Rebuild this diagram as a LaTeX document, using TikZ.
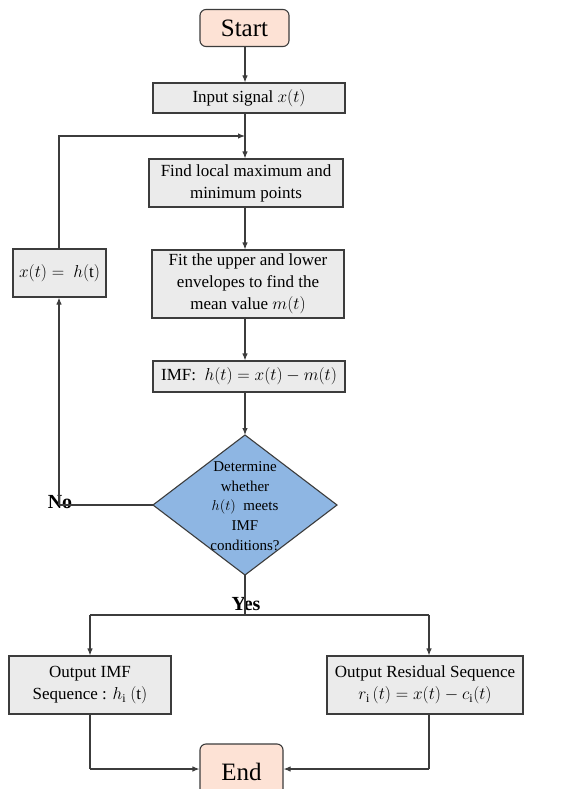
\documentclass[tikz,border=0pt]{standalone}
\usepackage{fontspec}
\setmainfont{Liberation Serif}
\usetikzlibrary{arrows.meta}
\definecolor{boxfill}{HTML}{EBEBEB}
\definecolor{boxline}{HTML}{3C3C3C}
\definecolor{termfill}{HTML}{FDE2D5}
\definecolor{decfill}{HTML}{8EB6E3}
\begin{document}
\begin{tikzpicture}[x=1pt,y=-1pt,
  procbox/.style={draw=boxline,fill=boxfill,line width=1.1pt,inner sep=0pt,align=center,
    font=\fontsize{17}{22}\selectfont},
  termbox/.style={draw=boxline,fill=termfill,line width=1.1pt,rounded corners=6pt,inner sep=0pt,
    font=\fontsize{25}{28}\selectfont},
  flow/.style={draw=boxline,line width=1.1pt,-{Latex[length=7pt,width=5.5pt]}},
  plainline/.style={draw=boxline,line width=1.1pt},
  lbl/.style={font=\fontsize{20}{24}\selectfont\bfseries,inner sep=0pt}]
\useasboundingbox (0,0) rectangle (577,789);
\clip (0,0) rectangle (577,789);
\fill[white] (0,0) rectangle (577,789);

\node[termbox,minimum width=89pt,minimum height=37pt] (start) at (244.5,28) {Start};
\node[procbox,minimum width=192pt,minimum height=30pt] (input) at (249,98) {Input signal $x(t)$};
\node[procbox,minimum width=194pt,minimum height=48pt] (find) at (246,183) {Find local maximum and\\minimum points};
\node[procbox,minimum width=192pt,minimum height=68pt] (fit) at (248,284) {Fit the upper and lower\\envelopes to find the\\mean value $m(t)$};
\node[procbox,minimum width=93pt,minimum height=48pt] (xh) at (59.5,273) {$x(t) =\ h(\mathrm{t})$};
\node[procbox,minimum width=192pt,minimum height=31pt] (imf) at (249,376.5) {IMF:\ \ $h(t) = x(t) - m(t)$};

\coordinate (dT) at (245,435);
\coordinate (dB) at (245,575);
\coordinate (dL) at (153,505);
\coordinate (dR) at (337,505);
\path[draw=boxline,fill=decfill,line width=1.1pt] (dT) -- (dR) -- (dB) -- (dL) -- cycle;
\node[align=center,inner sep=0pt,font=\fontsize{15}{19.7}\selectfont] (dtext) at (245,506)
  {Determine\\whether\\$h(t)$\ \ meets\\IMF\\conditions?};

\node[procbox,minimum width=162pt,minimum height=58pt] (oimf) at (90,685) {Output IMF\\Sequence : $h_{\mathrm{i}}\ (\mathrm{t})$};
\node[procbox,minimum width=196pt,minimum height=58pt] (ores) at (425,685) {Output Residual Sequence\\$r_{\mathrm{i}}\,(t) = x(t) - c_{\mathrm{i}}(t)$};
\node[termbox,minimum width=83pt,minimum height=56pt] (end) at (241.5,772) {End};

\node[lbl] (no) at (60,502) {No};
\node[lbl] (yes) at (246,604) {Yes};

\coordinate (fb) at (245,136);
\coordinate (nocorner) at (59,505);
\coordinate (split) at (245,615);
\coordinate (splitL) at (90,615);
\coordinate (splitR) at (429,615);
\coordinate (joinL) at (90,769);
\coordinate (joinR) at (429,769);

\draw[flow] (start.south -| 245,0) -- (input.north -| 245,0);
\draw[flow] (input.south -| 245,0) -- (find.north -| 245,0);
\draw[flow] (xh.north -| 59,0) |- (fb);
\draw[flow] (find.south -| 245,0) -- (fit.north -| 245,0);
\draw[flow] (fit.south -| 245,0) -- (imf.north -| 245,0);
\draw[flow] (imf.south -| 245,0) -- (dT);
\draw[plainline] (dL) -- (nocorner);
\draw[flow] (nocorner) -- (xh.south -| 59,0);
\draw[plainline] (dB) -- (split);
\draw[plainline] (splitL) -- (splitR);
\draw[flow] (splitL) -- (oimf.north -| splitL);
\draw[flow] (splitR) -- (ores.north -| splitR);
\draw[plainline] (oimf.south -| joinL) -- (joinL);
\draw[flow] (joinL) -- (end.west |- joinL);
\draw[plainline] (ores.south -| joinR) -- (joinR);
\draw[flow] (joinR) -- (end.east |- joinR);
\end{tikzpicture}
\end{document}
